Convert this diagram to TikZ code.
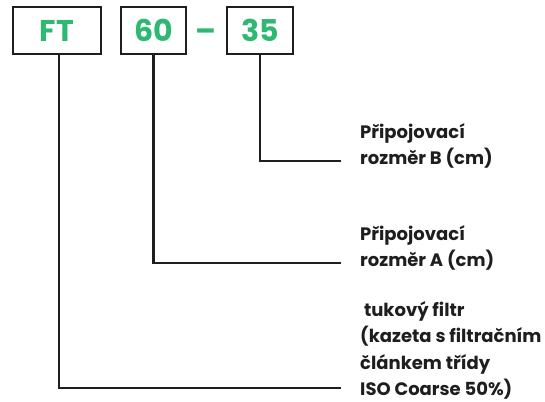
\documentclass[tikz,border=0pt]{standalone}
\usepackage{fontspec}
\setmainfont{Poppins}
\usetikzlibrary{positioning}
\definecolor{cCode}{HTML}{2EB872}
\definecolor{cLine}{HTML}{1E1E1E}
\tikzset{
  codebox/.style ={draw=cLine,line width=2.4pt,minimum height=47pt,inner sep=0pt,
                   text=cCode,font=\fontsize{30}{34}\selectfont\bfseries},
  dimtext/.style ={anchor=north west,align=left,inner sep=0pt,text=cLine,
                   font=\fontsize{18}{26.5}\selectfont\bfseries},
  lead/.style    ={draw=cLine,line width=2.2pt},
}
\begin{document}
\begin{tikzpicture}[x=1pt,y=-1pt]
\useasboundingbox (0,0) rectangle (545,401);

% type code boxes
\node[codebox,minimum width=88pt] (ft) at (57,30.5) {FT};
\node[codebox,minimum width=65pt] (sizeA) at (153.5,30.5) {60};
\node[codebox,minimum width=66pt] (sizeB) at (260,30.5) {35};
\node[anchor=base,inner sep=0pt,text=cCode,font=\fontsize{30}{34}\selectfont\bfseries]
  (dash) at (206,42) {--};

% descriptions
\node[dimtext] (txtB) at (360,123) {Připojovací\\rozměr B (cm)};
\node[dimtext] (txtA) at (360,225) {Připojovací\\rozměr A (cm)};
\node[dimtext] (txtFT) at (360,301) {\ tukový filtr\\(kazeta s filtračním\\článkem třídy\\ISO Coarse 50\%)};

% leader ends
\coordinate (endB) at (341,161);
\coordinate (endA) at (341,263);
\coordinate (endFT) at (341,388);

\draw[lead] (sizeB.south) |- (endB);
\draw[lead] (sizeA.south) |- (endA);
\draw[lead] ([xshift=2pt]ft.south) |- (endFT);
\end{tikzpicture}
\end{document}
